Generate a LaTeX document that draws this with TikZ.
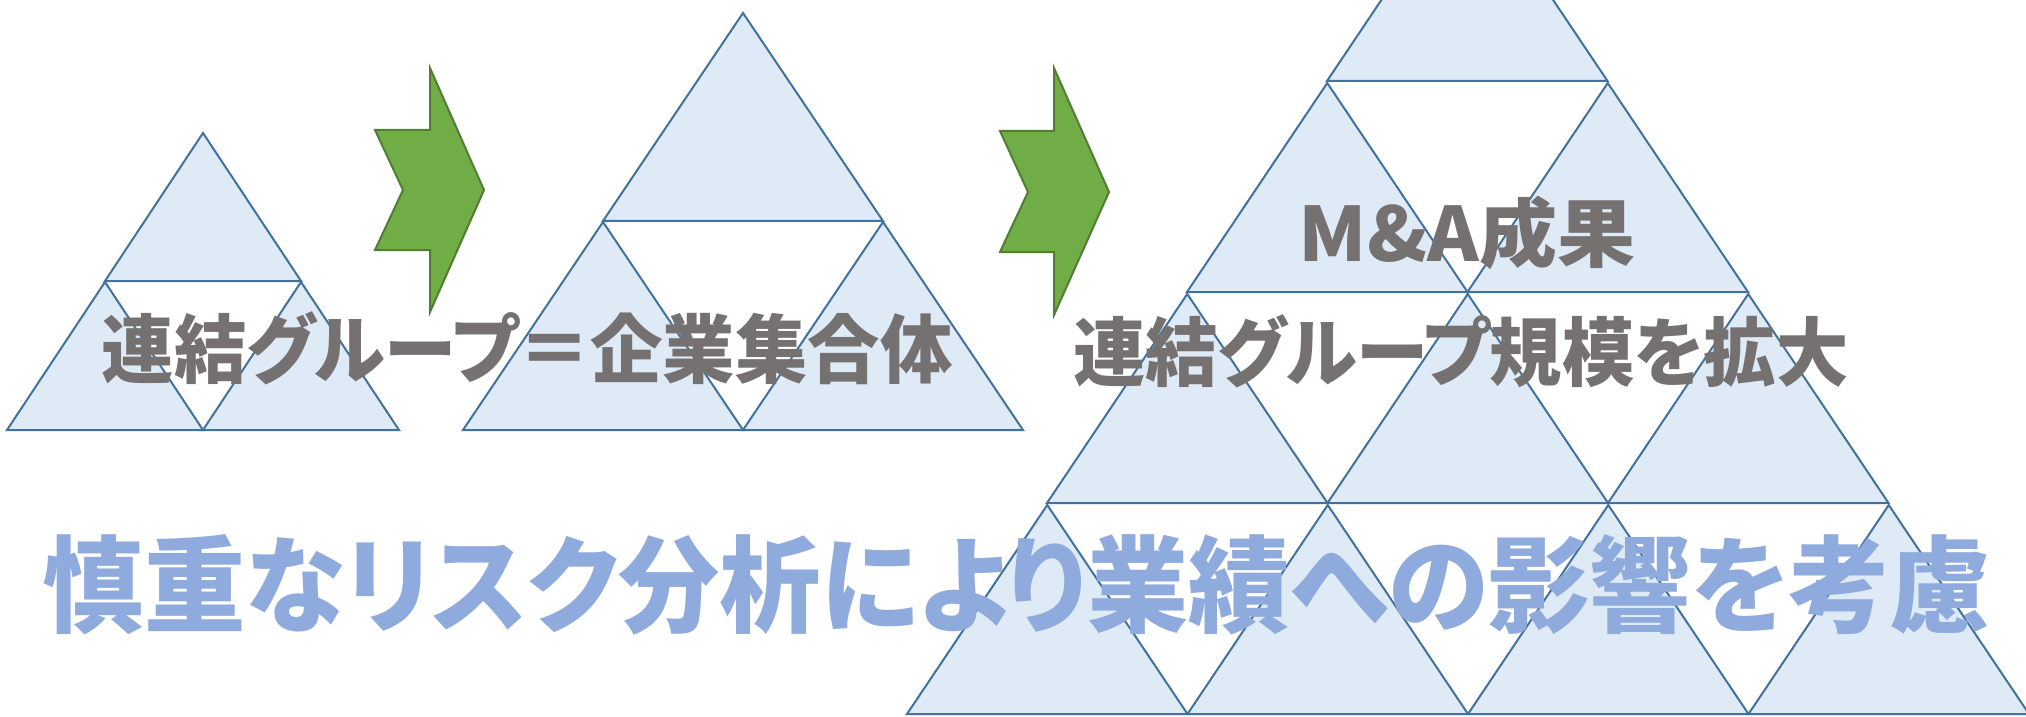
\documentclass[tikz,border=0pt]{standalone}
\usepackage{fontspec}
\newfontfamily\jpfont[RawFeature=+palt, FakeStretch=0.965]{Noto Sans CJK JP}
\newfontfamily\jpwidefont[RawFeature=+palt, FakeStretch=1.04]{Noto Sans CJK JP}
\definecolor{trifillc}{HTML}{DEEBF7}
\definecolor{trilinec}{HTML}{41719C}
\definecolor{arrowfillc}{HTML}{70AD47}
\definecolor{arrowlinec}{HTML}{507E32}
\definecolor{graytext}{HTML}{767171}
\definecolor{bluetext}{HTML}{8FAADC}
\tikzset{
  tristyle/.style={fill=trifillc, draw=trilinec, line width=1pt, line join=miter},
  arrowstyle/.style={fill=arrowfillc, draw=arrowlinec, line width=1pt, line join=miter},
  graylabel/.style={text=graytext, inner sep=0pt, font=\jpfont\bfseries\fontsize{37.5pt}{40pt}\selectfont},
  graywidelabel/.style={text=graytext, inner sep=0pt, font=\jpwidefont\bfseries\fontsize{37.5pt}{40pt}\selectfont},
  bluelabel/.style={text=bluetext, inner sep=0pt, font=\jpfont\bfseries\fontsize{52.5pt}{56pt}\selectfont}
}
% upright triangle: base-left x, base y, width, height
\newcommand\mytri[4]{\draw[tristyle] (#1,#2) -- ++(#3,0) -- ++({-#3/2},{-#4}) -- cycle;}
\begin{document}
\begin{tikzpicture}[x=0.5pt,y=-0.5pt]
\useasboundingbox (0,0) rectangle (2026,717);
\clip (0,0) rectangle (2026,717);
% small triangle group
\mytri{105}{281}{196}{148}
\mytri{7}{430}{196}{148}
\mytri{203}{430}{196}{148}
% middle triangle group
\mytri{603}{221}{280}{208}
\mytri{463}{430}{280}{208}
\mytri{743}{430}{280}{208}
% large pyramid
\mytri{1327}{81}{280.5}{209}
\mytri{1187}{292}{280.5}{209}
\mytri{1467.5}{292}{280.5}{209}
\mytri{1047}{503}{280.5}{209}
\mytri{1327.5}{503}{280.5}{209}
\mytri{1608}{503}{280.5}{209}
\mytri{907}{714}{280.5}{209}
\mytri{1187.5}{714}{280.5}{209}
\mytri{1468}{714}{280.5}{209}
\mytri{1748.5}{714}{280.5}{209}
% arrows
\draw[arrowstyle] (375,130) -- (430,130) -- (430,68) -- (484,190) -- (430,312) -- (430,250) -- (375,250) -- (403,190) -- cycle;
\draw[arrowstyle] (1000,131) -- (1054,131) -- (1054,68) -- (1109,192) -- (1054,315) -- (1054,252) -- (1000,252) -- (1028,192) -- cycle;
% texts
\node[graylabel] (t1) at (527,348) {連結グループ＝企業集合体};
\node[graywidelabel] (t2) at (1467,233) {M\&A成果};
\node[graylabel] (t3) at (1461,351) {連結グループ規模を拡大};
\node[bluelabel] (t4) at (1017,585) {慎重なリスク分析により業績への影響を考慮};
\end{tikzpicture}
\end{document}
